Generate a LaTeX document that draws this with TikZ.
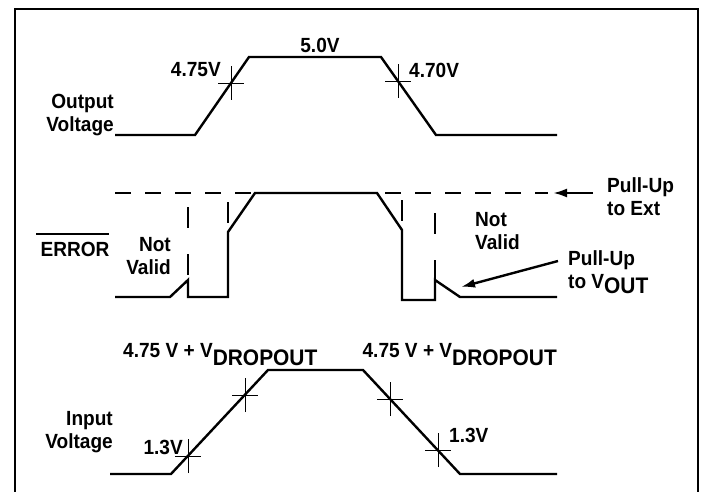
\documentclass[tikz,border=0pt]{standalone}
\usepackage{fontspec}
\setmainfont{Liberation Sans}[FakeStretch=0.93]
\usetikzlibrary{arrows.meta}
\begin{document}
\begin{tikzpicture}[x=1pt,y=-1pt,
  wave/.style={line width=2.4pt,line join=miter},
  tick/.style={line width=0.9pt},
  frameline/.style={line width=2pt},
  dashh/.style={line width=2.4pt,dash pattern=on 16pt off 14pt},
  dashv/.style={line width=2.4pt,dash pattern=on 21pt off 26pt},
  lbl/.style={inner sep=0pt,font=\fontsize{20.5}{23}\selectfont\bfseries},
  arr/.style={line width=2.4pt,-{Latex[length=14pt,width=9pt]}}]
\useasboundingbox (0,0) rectangle (701,492);
% frame
\draw[frameline] (15,492) -- (15,9) -- (698,9) -- (698,492);

% ---------- Output voltage ----------
\draw[wave] (115,135) -- (195,135) -- (249,57) -- (381,57) -- (436,135) -- (557,135);
\coordinate (c1) at (231,83);
\coordinate (c2) at (398,81);
\foreach \c in {c1,c2}{
  \draw[tick] ([xshift=-13pt]\c) -- ([xshift=13pt]\c);
  \draw[tick] ([yshift=-17pt]\c) -- ([yshift=17pt]\c);
}
\node[lbl] (v50) at (320,45) {5.0V};
\node[lbl,anchor=east] (v475) at (221,70) {4.75V};
\node[lbl,anchor=west] (v470) at (409,70) {4.70V};
\node[lbl,anchor=east,align=right] (outv) at (114,115) {Output\\Voltage};

% ---------- ERROR ----------
\draw[dashh] (115,193) -- (548,193);
\draw[dashv,dash phase=33pt] (188,193) -- (188,280);
\draw[dashv,dash phase=38pt] (228,193) -- (228,232);
\draw[dashv,dash phase=40pt] (402,193) -- (402,230);
\draw[dashv,dash phase=27pt] (435,193) -- (435,280);
\draw[wave] (115,297) -- (170,297) -- (188,280) -- (188,297) -- (228,297) -- (228,232)
  -- (255,193) -- (377,193) -- (402,230) -- (402,300) -- (435,300) -- (435,280)
  -- (460,297) -- (557,297);
\node[lbl] (err) at (75,249) {ERROR};
\draw[line width=1.3pt] (36,234) -- (109,234);
\node[lbl,anchor=east,align=right] (nv1) at (171,256) {Not\\Valid};
\node[lbl,anchor=west,align=left] (nv2) at (475,231) {Not\\Valid};
\node[lbl,anchor=west,align=left] (pue) at (607,197) {Pull-Up\\to Ext};
\node[lbl,anchor=west,align=left] (puv) at (568,272)
  {Pull-Up\\to V\raisebox{-5pt}{\fontsize{22.5}{23}\selectfont OUT}};
\coordinate (ae1) at (593,193);
\coordinate (ae2) at (553,193);
\draw[arr] (ae1) -- (ae2);
\coordinate (av1) at (558,261);
\coordinate (av2) at (461,287);
\draw[arr] (av1) -- (av2);

% ---------- Input voltage ----------
\draw[wave] (110,474) -- (171,474) -- (268,370) -- (363,370) -- (460,474) -- (557,474);
\coordinate (d1) at (188,456);
\coordinate (d2) at (245,395);
\coordinate (d3) at (390,399);
\coordinate (d4) at (438,450);
\foreach \c in {d1,d2,d3,d4}{
  \draw[tick] ([xshift=-13pt]\c) -- ([xshift=13pt]\c);
  \draw[tick] ([yshift=-17pt]\c) -- ([yshift=17pt]\c);
}
\node[lbl,anchor=base west] (dr1) at (123,357)
  {4.75 V + V\raisebox{-8pt}{\fontsize{22.5}{23}\selectfont DROPOUT}};
\node[lbl,anchor=base east] (dr2) at (557,357)
  {4.75 V + V\raisebox{-8pt}{\fontsize{22.5}{23}\selectfont DROPOUT}};
\node[lbl,anchor=east,align=right] (inv) at (113,432) {Input\\Voltage};
\node[lbl,anchor=east] (l13a) at (183,447) {1.3V};
\node[lbl,anchor=west] (l13b) at (449,435) {1.3V};
\end{tikzpicture}
\end{document}
